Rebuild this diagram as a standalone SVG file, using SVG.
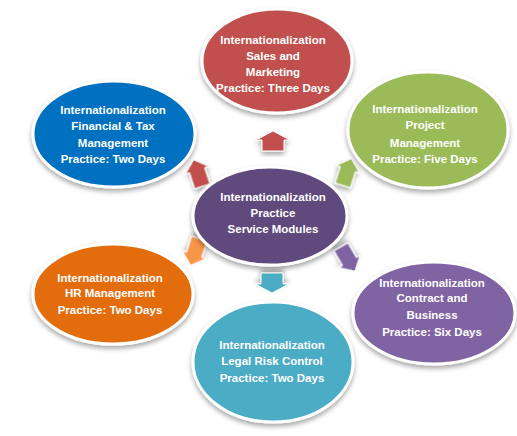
<svg xmlns="http://www.w3.org/2000/svg" width="517" height="436" viewBox="0 0 517 436">
<defs>
<filter id="sh" x="-20%" y="-20%" width="140%" height="150%">
<feGaussianBlur in="SourceAlpha" stdDeviation="2.5"/>
<feOffset dx="0" dy="3" result="b"/>
<feComponentTransfer><feFuncA type="linear" slope="0.35"/></feComponentTransfer>
<feMerge><feMergeNode/><feMergeNode in="SourceGraphic"/></feMerge>
</filter>
<polygon id="arr" points="0,-10 17,-1 11,-1 11,10 -11,10 -11,-1 -17,-1"/>
<polygon id="arrd" points="0,-14 12,-3 8,-3 8,14 -8,14 -8,-3 -12,-3"/>
</defs>
<style>
.e{stroke:#fff;stroke-width:3;filter:url(#sh)}
.a{stroke:#fff;stroke-width:1;filter:url(#sh)}
text{font-family:"Liberation Sans",Arial,sans-serif;font-weight:bold;font-size:11.5px;fill:#fff;text-anchor:middle}
</style>
<rect width="517" height="436" fill="#fff"/>
<g id="connectors">
<use href="#arr" class="a" fill="#C0504D" transform="translate(273,141)"/>
<use href="#arrd" class="a" fill="#C0504D" transform="translate(198,173) rotate(-18)"/>
<use href="#arrd" class="a" fill="#9BBB59" transform="translate(347,172) rotate(18)"/>
<use href="#arrd" class="a" fill="#F79646" transform="translate(195,252) rotate(198)"/>
<use href="#arrd" class="a" fill="#8064A2" transform="translate(348,259) rotate(150)"/>
<use href="#arr" class="a" fill="#4BACC6" transform="translate(272,283) rotate(180)"/>
</g>
<g id="sales">
<ellipse class="e" cx="277" cy="61" rx="75" ry="52" fill="#C0504D"/>
<text x="273" y="44">Internationalization</text>
<text x="273" y="60">Sales and</text>
<text x="273" y="76">Marketing</text>
<text x="273" y="92">Practice: Three Days</text>
</g>
<g id="financial">
<ellipse class="e" cx="114" cy="134" rx="81" ry="53" fill="#0070C0"/>
<text x="113" y="114">Internationalization</text>
<text x="113" y="130">Financial &amp; Tax</text>
<text x="113" y="147">Management</text>
<text x="113" y="163">Practice: Two Days</text>
</g>
<g id="project">
<ellipse class="e" cx="428" cy="130" rx="80" ry="58" fill="#9BBB59"/>
<text x="425" y="113">Internationalization</text>
<text x="425" y="129">Project</text>
<text x="425" y="147">Management</text>
<text x="425" y="163">Practice: Five Days</text>
</g>
<g id="center">
<ellipse class="e" cx="270" cy="216" rx="77" ry="49" fill="#604A7B"/>
<text x="273" y="201">Internationalization</text>
<text x="273" y="217">Practice</text>
<text x="273" y="233">Service Modules</text>
</g>
<g id="hr">
<ellipse class="e" cx="113" cy="294" rx="80" ry="50" fill="#E36C09"/>
<text x="110" y="282">Internationalization</text>
<text x="110" y="297">HR Management</text>
<text x="110" y="314">Practice: Two Days</text>
</g>
<g id="contract">
<ellipse class="e" cx="434" cy="313" rx="81" ry="51" fill="#8064A2"/>
<text x="432" y="287">Internationalization</text>
<text x="432" y="302">Contract and</text>
<text x="432" y="319">Business</text>
<text x="432" y="336">Practice: Six Days</text>
</g>
<g id="legal">
<ellipse class="e" cx="273" cy="362" rx="80" ry="60" fill="#4BACC6"/>
<text x="272" y="349">Internationalization</text>
<text x="272" y="365">Legal Risk Control</text>
<text x="272" y="382">Practice: Two Days</text>
</g>
</svg>
